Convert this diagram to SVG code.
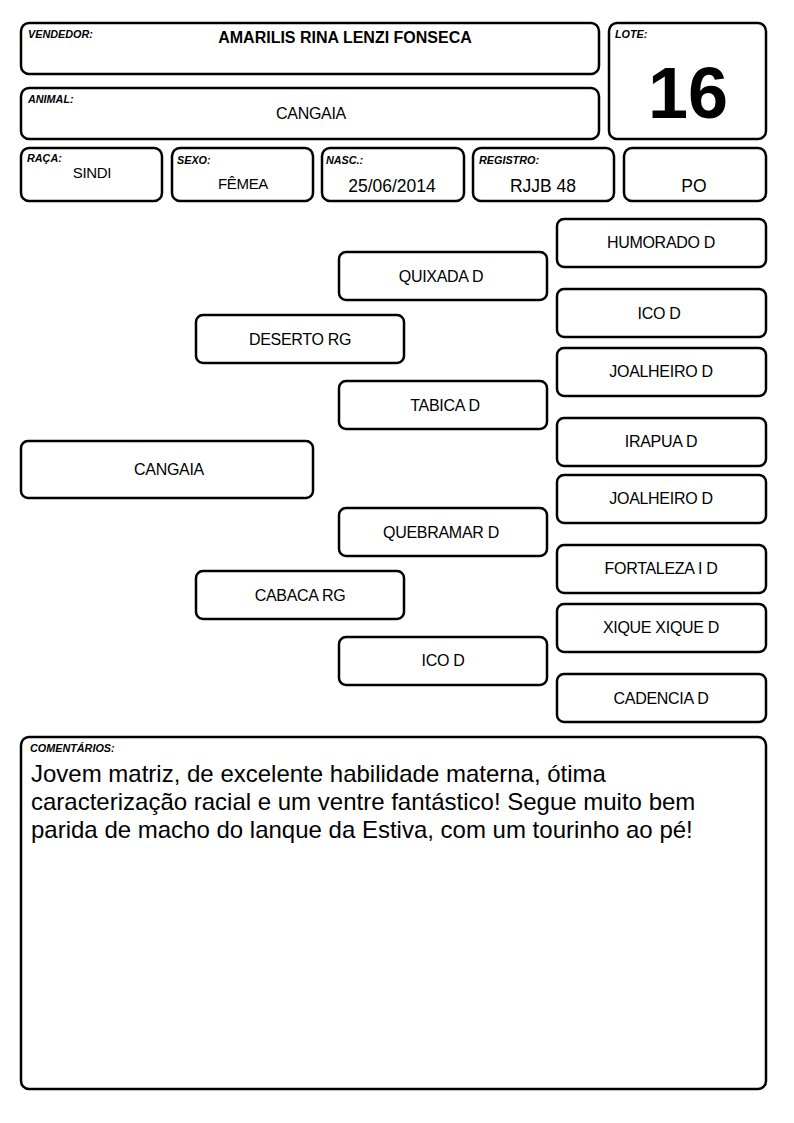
<svg xmlns="http://www.w3.org/2000/svg" width="794" height="1123" viewBox="0 0 794 1123">
<style>
.b{fill:#fff;stroke:#000;stroke-width:2.5}
.l{font-family:"Liberation Sans",Arial,sans-serif;font-size:10.8px;font-weight:bold;font-style:italic}
.t{font-family:"Liberation Sans",Arial,sans-serif;font-size:16px;text-anchor:middle;letter-spacing:-0.3px}
.v{font-family:"Liberation Sans",Arial,sans-serif;font-size:17.5px;text-anchor:middle}
.p{font-family:"Liberation Sans",Arial,sans-serif;font-size:16px;text-anchor:middle;letter-spacing:-0.3px}
.c{font-family:"Liberation Sans",Arial,sans-serif;font-size:24px}
</style>
<rect width="794" height="1123" fill="#fff"/>
<g id="vendedor"><rect class="b" x="21" y="23" width="578" height="51" rx="8"/><text class="l" x="28" y="38">VENDEDOR:</text><text x="345" y="43" font-family="Liberation Sans,Arial,sans-serif" font-size="16" font-weight="bold" text-anchor="middle">AMARILIS RINA LENZI FONSECA</text></g>
<g id="lote"><rect class="b" x="609" y="23" width="157" height="116" rx="8"/><text class="l" x="615" y="38">LOTE:</text><text x="688" y="118" font-family="Liberation Sans,Arial,sans-serif" font-size="72" font-weight="bold" text-anchor="middle">16</text></g>
<g id="animal"><rect class="b" x="21" y="88" width="578" height="51" rx="8"/><text class="l" x="28" y="103">ANIMAL:</text><text class="t" x="311" y="119">CANGAIA</text></g>
<g id="raca"><rect class="b" x="21" y="148" width="141" height="53" rx="8"/><text class="l" x="27" y="162">RAÇA:</text><text class="t" x="92" y="178" style="font-size:15px">SINDI</text></g>
<g id="sexo"><rect class="b" x="172" y="148" width="141" height="53" rx="8"/><text class="l" x="177" y="164">SEXO:</text><text class="t" x="243" y="189" style="font-size:15px">FÊMEA</text></g>
<g id="nasc"><rect class="b" x="322" y="148" width="142" height="53" rx="8"/><text class="l" x="326" y="164">NASC.:</text><text class="v" x="392" y="192">25/06/2014</text></g>
<g id="registro"><rect class="b" x="473" y="148" width="141" height="53" rx="8"/><text class="l" x="479" y="164">REGISTRO:</text><text class="v" x="543" y="192">RJJB 48</text></g>
<g id="po"><rect class="b" x="624" y="148" width="142" height="53" rx="8"/><text class="v" x="694" y="192">PO</text></g>
<g id="connectors"></g>
<g id="n-cangaia"><rect class="b" x="21" y="441" width="292" height="57" rx="7"/><text class="p" x="169" y="475">CANGAIA</text></g>
<g id="n-deserto"><rect class="b" x="196" y="315" width="208" height="48" rx="7"/><text class="p" x="300" y="345">DESERTO RG</text></g>
<g id="n-cabaca"><rect class="b" x="196" y="571" width="208" height="48" rx="7"/><text class="p" x="300" y="601">CABACA RG</text></g>
<g id="n-quixada"><rect class="b" x="339" y="252" width="208" height="48" rx="7"/><text class="p" x="441" y="282">QUIXADA D</text></g>
<g id="n-tabica"><rect class="b" x="339" y="381" width="208" height="48" rx="7"/><text class="p" x="445" y="411">TABICA D</text></g>
<g id="n-quebramar"><rect class="b" x="339" y="508" width="208" height="48" rx="7"/><text class="p" x="441" y="538">QUEBRAMAR D</text></g>
<g id="n-ico1"><rect class="b" x="339" y="637" width="208" height="48" rx="7"/><text class="p" x="443" y="666">ICO D</text></g>
<g id="n-humorado"><rect class="b" x="557" y="219" width="209" height="48" rx="7"/><text class="p" x="661" y="248">HUMORADO D</text></g>
<g id="n-ico2"><rect class="b" x="557" y="289" width="209" height="48" rx="7"/><text class="p" x="659" y="319">ICO D</text></g>
<g id="n-joalheiro1"><rect class="b" x="557" y="348" width="209" height="48" rx="7"/><text class="p" x="661" y="377">JOALHEIRO D</text></g>
<g id="n-irapua"><rect class="b" x="557" y="418" width="209" height="48" rx="7"/><text class="p" x="661" y="447">IRAPUA D</text></g>
<g id="n-joalheiro2"><rect class="b" x="557" y="475" width="209" height="48" rx="7"/><text class="p" x="661" y="504">JOALHEIRO D</text></g>
<g id="n-fortaleza"><rect class="b" x="557" y="545" width="209" height="48" rx="7"/><text class="p" x="661" y="574">FORTALEZA I D</text></g>
<g id="n-xique"><rect class="b" x="557" y="604" width="209" height="48" rx="7"/><text class="p" x="661" y="633">XIQUE XIQUE D</text></g>
<g id="n-cadencia"><rect class="b" x="557" y="674" width="209" height="48" rx="7"/><text class="p" x="661" y="704">CADENCIA D</text></g>
<g id="comentarios"><rect class="b" x="21" y="737" width="745" height="352" rx="8"/><text class="l" x="30" y="752">COMENTÁRIOS:</text>
<text class="c" x="31" y="782">Jovem matriz, de excelente habilidade materna, ótima</text>
<text class="c" x="31" y="810">caracterização racial e um ventre fantástico! Segue muito bem</text>
<text class="c" x="31" y="838">parida de macho do lanque da Estiva, com um tourinho ao pé!</text></g>
</svg>
